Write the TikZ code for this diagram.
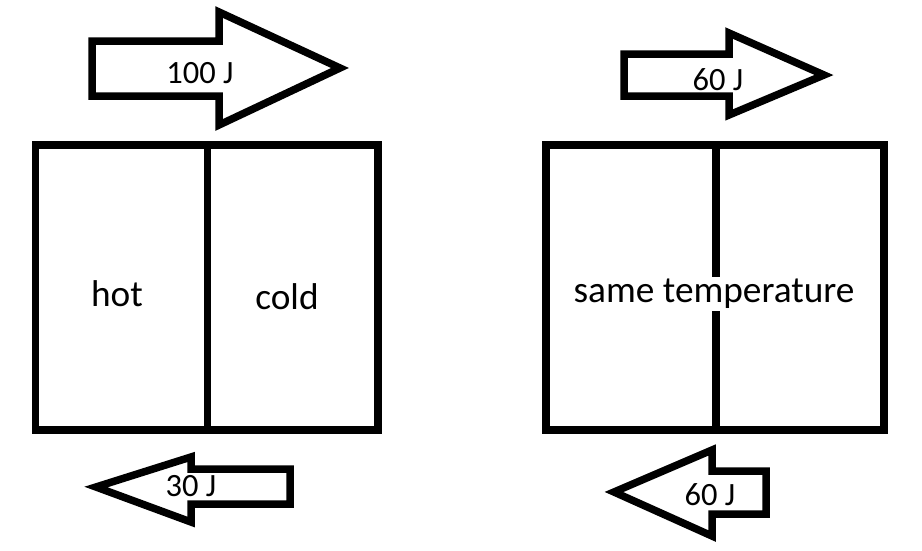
\documentclass[tikz,border=0pt]{standalone}
\usepackage{fontspec}
\setmainfont{Carlito}
\usepackage{tikz}

\begin{document}
\begin{tikzpicture}[x=1pt,y=-1pt,
  outline/.style={line width=7.5pt, line join=miter},
  boxlabel/.style={font=\fontsize{37.3}{40}\selectfont, inner sep=0pt},
  flowlabel/.style={font=\fontsize{32.5}{35}\selectfont, inner sep=0pt}]
  \useasboundingbox (0,0) rectangle (922,550);
  % left box: hot | cold
  \draw[outline] (35.5,145) rectangle (378,430);
  \draw[outline] (207.5,145) -- (207.5,430);
  \node[boxlabel] (hot) at (117,294) {hot};
  \node[boxlabel] (cold) at (287,297) {cold};
  % right box
  \draw[outline] (546,145) rectangle (884,430);
  \draw[outline] (716,145) -- (716,430);
  \node[boxlabel, fill=white, inner sep=2pt] (same) at (714,294) {same temperature};
  % heat flow arrows, left
  \draw[outline] (92,41) -- (219,41) -- (219,12) -- (340,68) -- (219,125)
    -- (219,96) -- (92,96) -- cycle;
  \node[flowlabel] (hundred) at (200,73) {100 J};
  \draw[outline] (290,469) -- (191,469) -- (191,457) -- (96,487) -- (191,522)
    -- (191,504) -- (290,504) -- cycle;
  \node[flowlabel] (thirty) at (191,486) {30 J};
  % heat flow arrows, right
  \draw[outline] (624,54) -- (729,54) -- (729,33) -- (824,75) -- (729,115)
    -- (729,96) -- (624,96) -- cycle;
  \node[flowlabel] (sixtyin) at (718,80) {60 J};
  \draw[outline] (766,471) -- (712,471) -- (712,450) -- (614,492) -- (712,536)
    -- (712,514) -- (766,514) -- cycle;
  \node[flowlabel] (sixtyout) at (710,495) {60 J};
\end{tikzpicture}
\end{document}
